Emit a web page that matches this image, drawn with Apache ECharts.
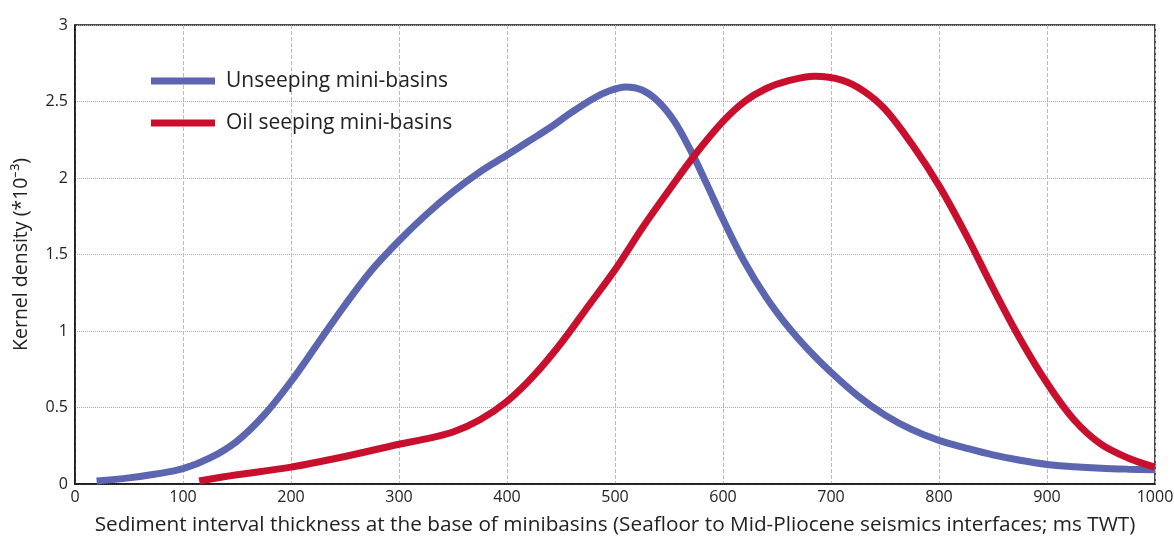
<!DOCTYPE html>
<html>
<head>
<meta charset="utf-8">
<script src="https://cdn.jsdelivr.net/npm/echarts@6/dist/echarts.min.js"></script>
<style>html,body{margin:0;padding:0;background:#fff;}#c{width:1174px;height:536px;}</style>
</head>
<body>
<div id="c"></div>
<script>
const unseepX = [20, 50, 75, 100, 125, 150, 175, 200, 225, 250, 275, 300, 325, 350, 375, 400, 420, 440, 460, 480, 495, 510, 525, 540, 555, 570, 585, 600, 620, 640, 660, 680, 700, 725, 750, 775, 800, 825, 850, 875, 900, 925, 950, 975, 1000];
const unseepY = [0.02, 0.04, 0.065, 0.10, 0.17, 0.28, 0.45, 0.67, 0.92, 1.17, 1.40, 1.59, 1.76, 1.91, 2.04, 2.15, 2.24, 2.33, 2.43, 2.52, 2.57, 2.595, 2.575, 2.50, 2.37, 2.18, 1.96, 1.73, 1.45, 1.22, 1.03, 0.87, 0.73, 0.575, 0.45, 0.355, 0.285, 0.235, 0.19, 0.155, 0.128, 0.113, 0.103, 0.097, 0.093];
const seepX = [115, 150, 200, 250, 300, 325, 350, 375, 400, 425, 450, 475, 500, 525, 550, 575, 600, 620, 640, 660, 685, 710, 730, 750, 775, 800, 825, 850, 875, 900, 925, 950, 975, 1000];
const seepY = [0.02, 0.06, 0.11, 0.18, 0.26, 0.295, 0.34, 0.42, 0.54, 0.71, 0.92, 1.16, 1.40, 1.67, 1.92, 2.16, 2.37, 2.50, 2.585, 2.635, 2.665, 2.64, 2.57, 2.45, 2.22, 1.95, 1.63, 1.28, 0.95, 0.66, 0.42, 0.26, 0.17, 0.11];
const seriesNames = ['Unseeping mini-basins', 'Oil seeping mini-basins'];
const xTitle = 'Sediment interval thickness at the base of minibasins (Seafloor to Mid-Pliocene seismics interfaces; ms TWT)';
const yTitle = 'Kernel density (*10\u207B\u00B3)';

const pairs = (xs, ys) => xs.map((x, i) => [x, ys[i]]);
const FONT = 'Open Sans';
const chart = echarts.init(document.getElementById('c'));
chart.setOption({
  animation: false,
  backgroundColor: '#fff',
  textStyle: { fontFamily: FONT },
  grid: { left: 75, right: 19, top: 25, bottom: 52, outerBoundsMode: 'none', containLabel: false, show: true, borderColor: '#111', borderWidth: 1.5, backgroundColor: 'transparent' },
  legend: {
    orient: 'vertical', left: 146, top: 64, itemGap: 18,
    itemWidth: 64, itemHeight: 7, icon: 'rect',
    textStyle: { fontFamily: FONT, fontSize: 21, lineHeight: 24, color: '#222', padding: [0, 0, 0, 6] },
    data: seriesNames
  },
  xAxis: {
    type: 'value', min: 0, max: 1000, interval: 100,
    name: xTitle, nameLocation: 'middle', nameGap: 31,
    nameTextStyle: { fontFamily: FONT, fontSize: 20.75, color: '#222' },
    axisLine: { show: true, onZero: false, lineStyle: { color: '#111', width: 1.5 } },
    axisTick: { show: false },
    axisLabel: { fontFamily: FONT, fontSize: 16, color: '#222', margin: 5, formatter: v => String(v) },
    splitLine: { show: true, lineStyle: { type: 'dashed', color: '#bbb', width: 1 } }
  },
  yAxis: {
    type: 'value', min: 0, max: 3, interval: 0.5,
    name: yTitle, nameLocation: 'middle', nameGap: 44, nameRotate: 90,
    nameTextStyle: { fontFamily: FONT, fontSize: 19.5, color: '#222' },
    axisLine: { show: true, lineStyle: { color: '#111', width: 1.5 } },
    axisTick: { show: false },
    axisLabel: { fontFamily: FONT, fontSize: 16, color: '#222', margin: 7, formatter: v => String(v) },
    splitLine: { show: true, lineStyle: { type: 'dotted', color: '#aaa', width: 1 } }
  },
  series: [
    { name: seriesNames[0], type: 'line', data: pairs(unseepX, unseepY), smooth: 0.35, showSymbol: false,
      lineStyle: { color: '#5b65b0', width: 7, cap: 'butt' }, itemStyle: { color: '#5b65b0' } },
    { name: seriesNames[1], type: 'line', data: pairs(seepX, seepY), smooth: 0.35, showSymbol: false,
      lineStyle: { color: '#c8102e', width: 7, cap: 'butt' }, itemStyle: { color: '#c8102e' } }
  ]
});
</script>
</body>
</html>
